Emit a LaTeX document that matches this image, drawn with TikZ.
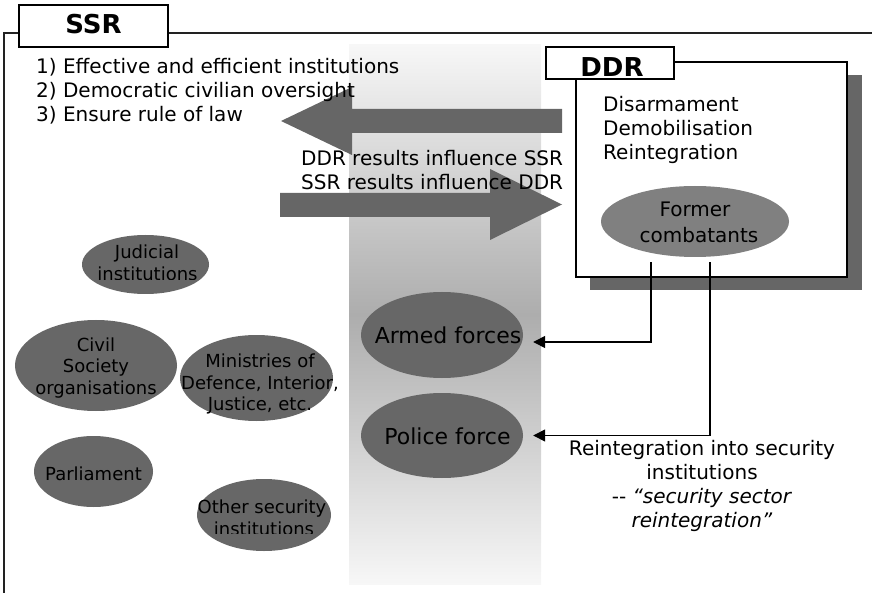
\documentclass[tikz,border=0pt]{standalone}
\usepackage{fontspec}
\setmainfont{DejaVu Sans}
\usetikzlibrary{shapes.geometric,arrows.meta,calc}
\definecolor{ellgray}{HTML}{676767}
\definecolor{fcgray}{HTML}{808080}
\definecolor{arrgray}{HTML}{666666}
\definecolor{framegray}{HTML}{222222}
\definecolor{bandtop}{HTML}{F7F7F7}
\definecolor{bandmid}{HTML}{ADADAD}
\begin{document}
\begin{tikzpicture}[x=1pt,y=-1pt,
  ell/.style={ellipse, fill=ellgray, draw=none, inner sep=0pt},
  tx/.style={inner sep=0pt, font=\fontsize{20}{24}\selectfont},
  txs/.style={inner sep=0pt, font=\fontsize{18}{21.5}\selectfont, align=center},
  txl/.style={inner sep=0pt, font=\fontsize{22}{26}\selectfont},
  ttl/.style={inner sep=0pt, font=\fontsize{26}{30}\selectfont\bfseries},
  tabbox/.style={draw=black, fill=white, line width=1.5pt},
  blockarrow/.style={fill=arrgray, draw=none},
  conn/.style={draw=black, line width=1.4pt, -{Triangle[length=12pt,width=12pt]}}
]
\useasboundingbox (0,0) rectangle (872,593);

% gradient band
\shade[top color=bandtop, bottom color=bandtop, middle color=bandmid] (349,45) rectangle (541,584);

% SSR frame
\draw[framegray, line width=2pt] (4,593) -- (4,33) -- (872,33);
\draw[tabbox] (19,5) rectangle (168,47);
\node[ttl, anchor=base] (ssr) at (93.5,34) {SSR};

% block arrows
\path[blockarrow] (562,109) -- (352,109) -- (352,87) -- (281,121) -- (352,155) -- (352,133) -- (562,133) -- cycle;
\path[blockarrow] (280,193) -- (490,193) -- (490,169) -- (562,204.5) -- (490,240) -- (490,217) -- (280,217) -- cycle;

% SSR goals
\node[tx, anchor=base west] (g1) at (36,74) {1) Effective and efficient institutions};
\node[tx, anchor=base west] (g2) at (36,98) {2) Democratic civilian oversight};
\node[tx, anchor=base west] (g3) at (36,122) {3) Ensure rule of law};

% influence text
\node[tx, anchor=base west] (inf1) at (301,166) {DDR results influence SSR};
\node[tx, anchor=base west] (inf2) at (301,190) {SSR results influence DDR};

% DDR box
\fill[arrgray] (590,75) rectangle (862,290);
\draw[tabbox] (576,62) rectangle (847,277);
\draw[tabbox] (546,47) rectangle (674,79);
\node[ttl, anchor=base] (ddr) at (612,76.5) {DDR};
\node[tx, anchor=base west] (d1) at (603,112) {Disarmament};
\node[tx, anchor=base west] (d2) at (603,136) {Demobilisation};
\node[tx, anchor=base west] (d3) at (603,160) {Reintegration};
\node[ellipse, fill=fcgray, inner sep=0pt, minimum width=188pt, minimum height=71pt] (fc) at (695,221.5) {};
\node[tx, anchor=base] (fc1) at (695,217) {Former};
\node[tx, anchor=base] (fc2) at (699,243) {combatants};

% left ellipses
\node[ell, minimum width=127pt, minimum height=59pt] (jud) at (145.5,264.5) {};
\node[txs, anchor=base] (jud1) at (147,259) {Judicial};
\begin{scope}
  \clip (80,262) rectangle (212,280);
  \node[txs, anchor=base] (jud2) at (147.5,281) {institutions};
\end{scope}

\node[ell, minimum width=162pt, minimum height=91pt] (civ) at (96,365.5) {};
\node[txs] (civt) at (96,368) {Civil\\Society\\organisations};

\node[ell, minimum width=153pt, minimum height=86pt] (min) at (256.5,378) {};
\node[txs] (mint) at (260,384) {Ministries of\\Defence, Interior,\\Justice, etc.};

\node[ell, minimum width=119pt, minimum height=71pt] (par) at (93.5,471.5) {};
\node[txs, anchor=base] (part) at (93.5,480) {Parliament};

\node[ell, minimum width=134pt, minimum height=72pt] (oth) at (264,515) {};
\node[txs, anchor=base] (oth1) at (262,513) {Other security};
\begin{scope}
  \clip (190,516) rectangle (340,533);
  \node[txs, anchor=base] (oth2) at (264,535) {institutions};
\end{scope}

% armed / police
\node[ell, minimum width=162pt, minimum height=86pt] (armed) at (442,335) {};
\node[txl, anchor=base] (armedt) at (448,343) {Armed forces};
\node[ell, minimum width=162pt, minimum height=85pt] (police) at (442,435.5) {};
\node[txl, anchor=base] (policet) at (447.5,444) {Police force};

% connectors
\draw[conn] ($(fc.south)+(-44,5)$) |- ($(armed.east)+(10,7)$);
\draw[conn] ($(fc.south)+(15,5)$) |- ($(police.east)+(10,0)$);

% reintegration text
\node[tx, anchor=base] (r1) at (702,455) {Reintegration into security};
\node[tx, anchor=base] (r2) at (702,479) {institutions};
\node[tx, anchor=base] (r3) at (702,503) {-\kern0pt- \textit{“security sector}};
\node[tx, anchor=base] (r4) at (702,527) {\textit{reintegration”}};
\end{tikzpicture}
\end{document}
